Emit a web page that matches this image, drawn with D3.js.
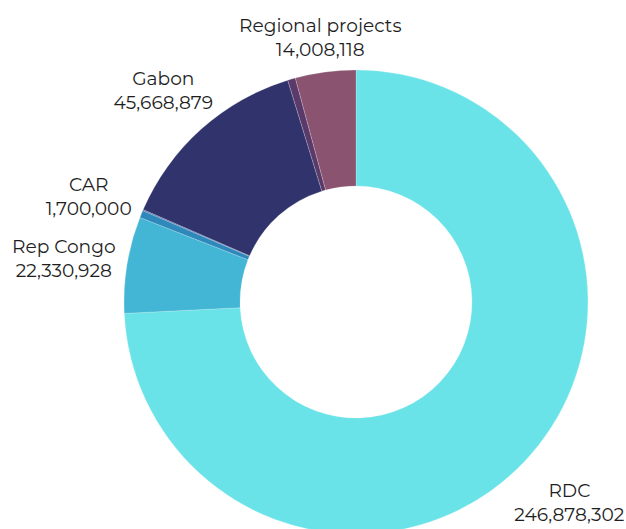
<!DOCTYPE html>
<html><head><meta charset="utf-8">
<script src="https://cdn.jsdelivr.net/npm/d3@7"></script>
<style>body{margin:0;background:#fff;}svg{display:block;}</style>
</head><body>
<svg id="c" width="626" height="529"></svg>
<script>
const categories = ["RDC", "Rep Congo", "CAR", "Other", "Gabon", "Other 2", "Regional projects"];
const values = [246878302, 22330928, 1700000, 250000, 45668879, 1800000, 14008118];
const showLabel = [true, true, true, false, true, false, true];
const colors = ["#69e3e8", "#43b6d5", "#2e88bb", "#3a5f9e", "#31346c", "#5a3a6a", "#8a5370"];

const W = 626, H = 529, cx = 356, cy = 302, R = 232, r0 = 116;
const svg = d3.select("#c");
const pie = d3.pie().value(d => d.v).sort(null);
const data = categories.map((c, i) => ({c, v: values[i], col: colors[i], lab: showLabel[i]}));
const arcs = pie(data);
const arc = d3.arc().innerRadius(r0).outerRadius(R);
const g = svg.append("g").attr("transform", `translate(${cx},${cy})`);
g.selectAll("path").data(arcs).join("path")
  .attr("d", arc).attr("fill", d => d.data.col)
  .attr("stroke", "#ffffff").attr("stroke-width", 0.4).attr("stroke-opacity", 0.5);

const fmt = d3.format(",");
const fs = 18.6, lh = 24, capH = 13;
const lg = g.append("g").attr("font-family", "Montserrat, 'Open Sans', sans-serif").attr("font-size", fs).attr("fill", "#1e1e1e");
arcs.filter(d => d.data.lab).forEach(d => {
  const a = (d.startAngle + d.endAngle) / 2;
  const t = lg.append("text").attr("text-anchor", "middle");
  t.append("tspan").attr("x", 0).attr("dy", 0).text(d.data.c);
  t.append("tspan").attr("x", 0).attr("dy", lh).text(fmt(d.data.v));
  const w = t.node().getBBox().width;
  const hh = (lh + capH) / 2;
  const s = Math.sin(a), c = Math.cos(a);
  const rr = R + 10 + Math.abs(s) * w / 2 + Math.abs(c) * hh;
  const x = s * rr, y = -c * rr;
  const off = c > 0 ? 4 : -3;
  t.attr("transform", `translate(${x},${y - (lh - capH) / 2 + off})`);
});
</script>
</body></html>
